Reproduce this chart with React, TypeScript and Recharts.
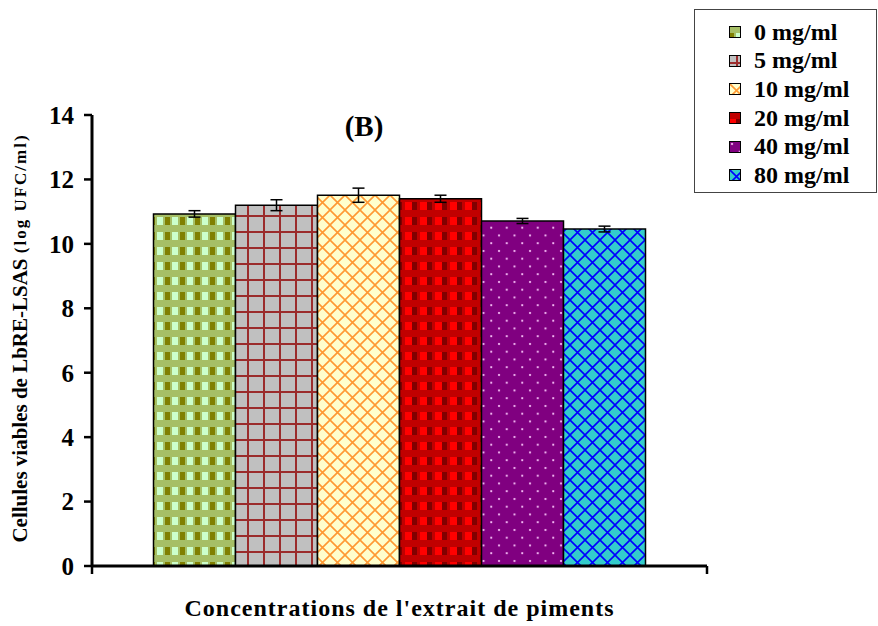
import React from "react";
import {
  BarChart,
  Bar,
  XAxis,
  YAxis,
  ErrorBar,
  Legend,
} from "recharts";

// Concentrations of the pepper extract (one bar each)
const concentrations = ["0 mg/ml", "5 mg/ml", "10 mg/ml", "20 mg/ml", "40 mg/ml", "80 mg/ml"];
// Viable cells (log UFC/ml) and standard deviations
const means = [10.93, 11.2, 11.51, 11.4, 10.71, 10.46];
const errors = [0.1, 0.17, 0.22, 0.11, 0.08, 0.09];
const yTicks = [0, 2, 4, 6, 8, 10, 12, 14];

const FONT = "'Liberation Serif', 'Times New Roman', serif";
const WIDTH = 878;
const HEIGHT = 626;
const MARGIN = { top: 115, right: 171, bottom: 0, left: 32 };
const PLOT_WIDTH = WIDTH - MARGIN.left - 60 - MARGIN.right;

// single row: every concentration is its own series
const row: Record<string, number | string> = { name: "" };
concentrations.forEach((_, i) => {
  row[`c${i}`] = means[i];
  row[`e${i}`] = errors[i];
});
const data = [row];

// hatch patterns, shared by bars and legend icons
const Patterns = () => (
  <svg width={0} height={0} style={{ position: "absolute" }}>
    <defs>
      <pattern id="pat0" width="15" height="15" patternUnits="userSpaceOnUse">
        <rect width="15" height="15" fill="#A6BF66" />
        <rect x="0" y="7" width="5" height="8" fill="#808000" />
        <rect x="7" y="7" width="6" height="8" fill="#CCFFCC" />
      </pattern>
      <pattern id="pat1" width="16" height="16" patternUnits="userSpaceOnUse">
        <rect width="16" height="16" fill="#C0C0C0" />
        <rect x="7" y="0" width="2" height="16" fill="#9B2C2C" />
        <rect x="0" y="7" width="16" height="2" fill="#9B2C2C" />
      </pattern>
      <pattern id="pat2" width="15" height="15" patternUnits="userSpaceOnUse">
        <rect width="15" height="15" fill="#FFFFCC" />
        <path d="M-1,-1 L16,16 M16,-1 L-1,16" stroke="#FF9933" strokeWidth="1.6" />
      </pattern>
      <pattern id="pat3" width="15" height="15" patternUnits="userSpaceOnUse">
        <rect width="15" height="15" fill="#C00000" />
        <rect x="0" y="7" width="7" height="8" fill="#FF0000" />
        <rect x="7" y="7" width="5" height="8" fill="#800000" />
      </pattern>
      <pattern id="pat4" width="15.5" height="15.5" patternUnits="userSpaceOnUse">
        <rect width="15.5" height="15.5" fill="#800080" />
        <circle cx="3" cy="3" r="1.1" fill="#FFCCFF" />
        <circle cx="10.75" cy="10.75" r="1.1" fill="#FFCCFF" />
      </pattern>
      <pattern id="pat5" width="15" height="15" patternUnits="userSpaceOnUse">
        <rect width="15" height="15" fill="#33CCCC" />
        <path d="M-1,-1 L16,16 M16,-1 L-1,16" stroke="#0000FF" strokeWidth="1.6" />
      </pattern>
    </defs>
  </svg>
);

// ticks only at both ends of the x axis
const EndTicks = (props: any) => {
  const { x, y } = props;
  const half = PLOT_WIDTH / 2;
  return (
    <g>
      <line x1={x - half} y1={y} x2={x - half} y2={y + 8} stroke="#000" strokeWidth={2.5} />
      <line x1={x + half} y1={y} x2={x + half} y2={y + 8} stroke="#000" strokeWidth={2.5} />
    </g>
  );
};

const YLabel = () => (
  <text
    x={20}
    y={338}
    transform="rotate(-90 20 338)"
    textAnchor="middle"
    dominantBaseline="central"
    fontFamily={FONT}
    fontWeight="bold"
    fill="#000"
  >
    <tspan fontSize={21}>Cellules viables de LbRE-LSAS </tspan>
    <tspan fontSize={17} letterSpacing={2}>(log UFC/ml)</tspan>
  </text>
);

const LegendBox = () => (
  <div
    style={{
      border: "1.5px solid #444",
      boxSizing: "border-box",
      width: "100%",
      height: "100%",
      paddingTop: 8,
      paddingLeft: 34,
      fontFamily: FONT,
      fontWeight: "bold",
      fontSize: 24,
      color: "#000",
      background: "#fff",
    }}
  >
    {concentrations.map((c, i) => (
      <div key={c} style={{ display: "flex", alignItems: "center", height: 28.6 }}>
        <svg width={12} height={12} style={{ marginRight: 13 }}>
          <rect x={0.5} y={0.5} width={11} height={11} fill={`url(#pat${i})`} stroke="#000" strokeWidth={1} />
        </svg>
        <span>{c}</span>
      </div>
    ))}
  </div>
);

export default function App() {
  return (
    <div
      style={{
        position: "absolute",
        left: 0,
        top: 0,
        width: WIDTH,
        height: HEIGHT,
        background: "#fff",
      }}
    >
      <Patterns />
      <div
        style={{
          position: "absolute",
          left: 364,
          top: 112,
          transform: "translateX(-50%)",
          fontFamily: FONT,
          fontWeight: "bold",
          fontSize: 29,
          lineHeight: "29px",
          zIndex: 2,
        }}
      >
        (B)
      </div>
      <BarChart
        width={WIDTH}
        height={HEIGHT}
        data={data}
        margin={MARGIN}
        barCategoryGap="10%"
        barGap={0}
      >
        <XAxis
          dataKey="name"
          height={60}
          axisLine={{ stroke: "#000", strokeWidth: 3 }}
          tickLine={false}
          tickSize={0}
          tickMargin={0}
          tick={<EndTicks />}
          label={{
            value: "Concentrations de l'extrait de piments",
            position: "insideBottom",
            offset: 10,
            style: {
              fontFamily: FONT,
              fontWeight: "bold",
              fontSize: 24,
              letterSpacing: 1,
              fill: "#000",
            },
          }}
        />
        <YAxis
          width={60}
          type="number"
          domain={[0, 14]}
          ticks={yTicks}
          interval={0}
          axisLine={{ stroke: "#000", strokeWidth: 3 }}
          tickLine={{ stroke: "#000", strokeWidth: 2.5 }}
          tickSize={8}
          tickMargin={10}
          tick={{ fill: "#000", fontSize: 25, fontWeight: "bold", fontFamily: FONT }}
          label={<YLabel />}
        />
        <Legend
          layout="vertical"
          align="center"
          verticalAlign="middle"
          content={<LegendBox />}
          wrapperStyle={{ left: 694, top: 9, width: 183, height: 184 }}
        />
        {concentrations.map((c, i) => (
          <Bar
            key={c}
            dataKey={`c${i}`}
            name={c}
            fill={`url(#pat${i})`}
            stroke="#000"
            strokeWidth={1.5}
            isAnimationActive={false}
          >
            <ErrorBar dataKey={`e${i}`} width={6} stroke="#000" strokeWidth={1.5} />
          </Bar>
        ))}
      </BarChart>
    </div>
  );
}
